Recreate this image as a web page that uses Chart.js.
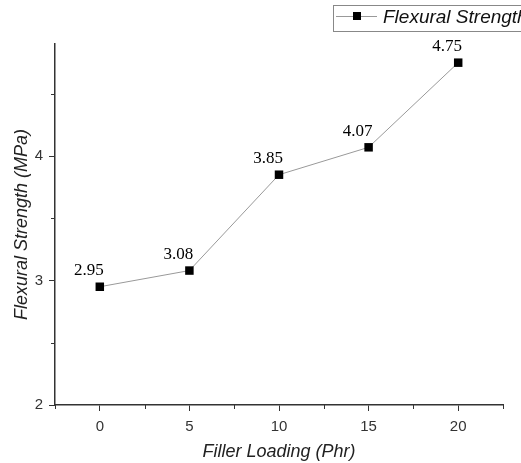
<!DOCTYPE html>
<html>
<head>
<meta charset="utf-8">
<script src="https://cdn.jsdelivr.net/npm/chart.js@4.4.1/dist/chart.umd.min.js"></script>
<style>
  html, body { margin: 0; padding: 0; background: #fff; overflow: hidden; }
  #wrap { width: 521px; height: 463px; position: relative; }
</style>
</head>
<body>
<div id="wrap"><canvas id="chart"></canvas></div>
<script>
// data
const fillerLoading = [0, 5, 10, 15, 20];
const flexuralStrength = [2.95, 3.08, 3.85, 4.07, 4.75];
const seriesLabel = 'Flexural Strength';

const xTicks = [0, 5, 10, 15, 20];
const xMinorTicks = [-2.5, 2.5, 7.5, 12.5, 17.5, 22.5];
const yTicks = [2, 3, 4];
const yMinorTicks = [2.5, 3.5, 4.5];

const axisColor = '#333';
const labelFont = { family: '"Liberation Sans", Arial, sans-serif', size: 15 };
const titleFont = { family: '"Liberation Sans", Arial, sans-serif', size: 18, style: 'italic' };

// kleine Zwischenstriche an den Achsen
const minorTicksPlugin = {
    id: 'minorTicks',
    afterDraw(chart) {
        const { ctx, scales: { x, y } } = chart;
        ctx.save();
        ctx.strokeStyle = axisColor;
        ctx.lineWidth = 1;
        ctx.beginPath();
        xMinorTicks.forEach(v => {
            const px = Math.round(x.getPixelForValue(v)) + 0.5;
            ctx.moveTo(px, x.top);
            ctx.lineTo(px, x.top + 4);
        });
        yMinorTicks.forEach(v => {
            const py = Math.round(y.getPixelForValue(v)) + 0.5;
            ctx.moveTo(y.right, py);
            ctx.lineTo(y.right - 4, py);
        });
        ctx.stroke();
        ctx.restore();
    }
};

// Werte über den Punkten
const valueLabelsPlugin = {
    id: 'valueLabels',
    afterDatasetsDraw(chart) {
        const { ctx } = chart;
        const meta = chart.getDatasetMeta(0);
        ctx.save();
        ctx.font = '17px "Liberation Serif", "Times New Roman", serif';
        ctx.fillStyle = '#000';
        ctx.textAlign = 'center';
        ctx.textBaseline = 'middle';
        meta.data.forEach((pt, i) => {
            ctx.fillText(flexuralStrength[i].toFixed(2), pt.x - 11, pt.y - 16);
        });
        ctx.restore();
    }
};

// Legende oben rechts (wie im Original abgeschnitten)
const boxLegendPlugin = {
    id: 'boxLegend',
    afterDraw(chart) {
        const { ctx } = chart;
        ctx.save();
        ctx.strokeStyle = '#888';
        ctx.lineWidth = 1;
        ctx.strokeRect(333.5, 5.5, 220, 26);
        ctx.strokeStyle = '#999';
        ctx.beginPath();
        ctx.moveTo(336, 16.5);
        ctx.lineTo(377, 16.5);
        ctx.stroke();
        ctx.fillStyle = '#000';
        ctx.fillRect(353, 12, 8, 8);
        ctx.font = 'italic 19px "Liberation Sans", Arial, sans-serif';
        ctx.fillStyle = '#111';
        ctx.textBaseline = 'middle';
        ctx.fillText(seriesLabel, 383, 18);
        ctx.restore();
    }
};

new Chart(document.getElementById('chart'), {
    type: 'line',
    data: {
        datasets: [{
            label: seriesLabel,
            data: fillerLoading.map((x, i) => ({ x, y: flexuralStrength[i] })),
            borderColor: '#999',
            borderWidth: 1,
            pointStyle: 'rect',
            pointRadius: 6,
            pointBackgroundColor: '#000',
            pointBorderColor: '#000',
            pointBorderWidth: 0,
            tension: 0
        }]
    },
    options: {
        responsive: true,
        maintainAspectRatio: false,
        animation: false,
        layout: { padding: { top: 44, right: 18, left: 0, bottom: 0 } },
        plugins: {
            legend: { display: false },
            tooltip: { enabled: false }
        },
        scales: {
            x: {
                type: 'linear',
                min: -2.5,
                max: 22.5,
                afterBuildTicks: (scale) => { scale.ticks = xTicks.map(v => ({ value: v })); },
                afterFit: (scale) => { scale.height = 58; },
                grid: { display: true, drawOnChartArea: false, drawTicks: true, tickLength: 6, color: axisColor },
                border: { display: true, color: axisColor, width: 1.5 },
                ticks: { color: axisColor, font: labelFont, padding: 7, maxRotation: 0 },
                title: { display: true, text: 'Filler Loading (Phr)', color: '#222', font: titleFont, padding: { top: 4, bottom: 0 } }
            },
            y: {
                type: 'linear',
                min: 2,
                max: 4.9,
                afterBuildTicks: (scale) => { scale.ticks = yTicks.map(v => ({ value: v })); },
                afterFit: (scale) => { scale.width = 55; },
                grid: { display: true, drawOnChartArea: false, drawTicks: true, tickLength: 6, color: axisColor },
                border: { display: true, color: axisColor, width: 1.5 },
                ticks: { color: axisColor, font: labelFont, padding: 6 },
                title: { display: true, text: 'Flexural Strength (MPa)', color: '#222', font: titleFont, padding: { top: 11, bottom: 4 } }
            }
        }
    },
    plugins: [minorTicksPlugin, valueLabelsPlugin, boxLegendPlugin]
});
</script>
</body>
</html>
